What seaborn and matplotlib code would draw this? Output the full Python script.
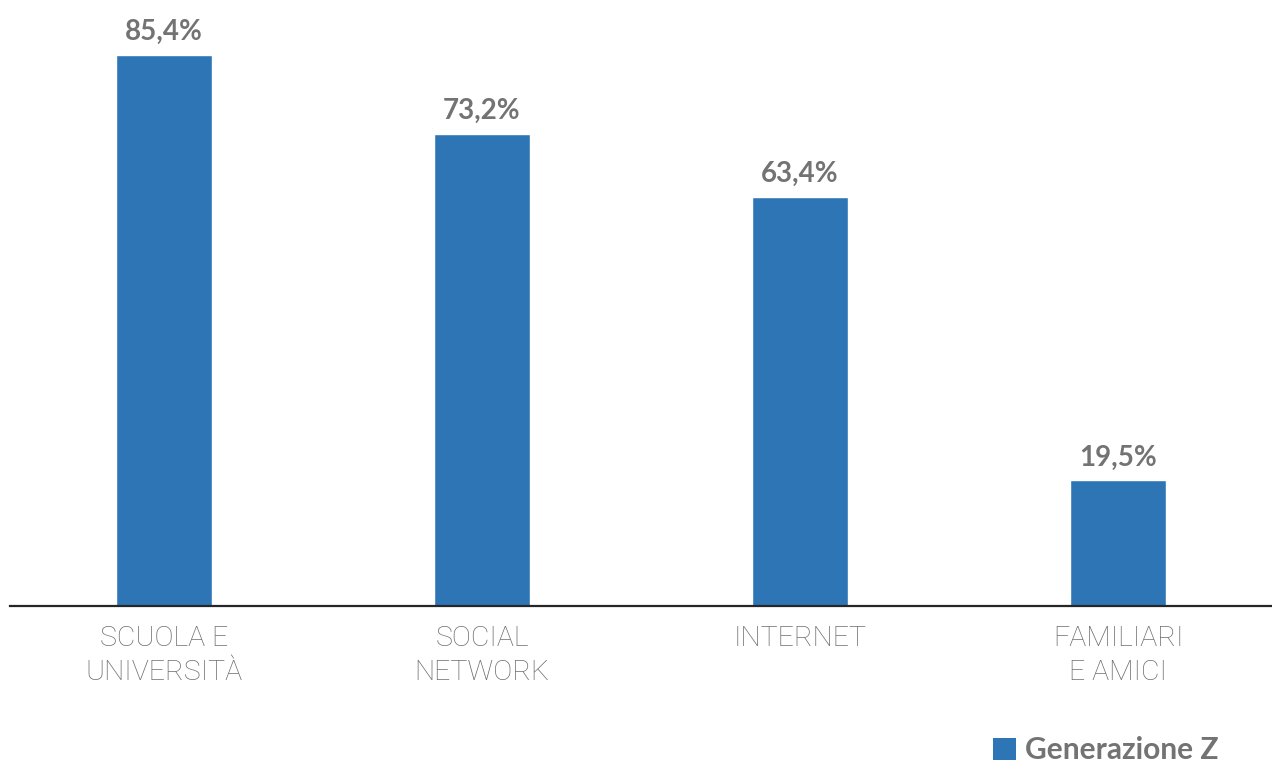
import matplotlib
matplotlib.use("Agg")
import matplotlib.pyplot as plt
import seaborn as sns
import pandas as pd
from matplotlib.patches import Patch

categories = ["SCUOLA E\nUNIVERSITÀ", "SOCIAL\nNETWORK", "INTERNET", "FAMILIARI\nE AMICI"]
values = [85.4, 73.2, 63.4, 19.5]
series_name = "Generazione Z"

BLUE = "#2E75B6"
GREY = "#737373"

sns.set_theme(style="white")
plt.rcParams["font.family"] = ["Lato", "DejaVu Sans"]

df = pd.DataFrame({"categoria": categories, "valore": values})

fig = plt.figure(figsize=(12.72, 7.67), dpi=100)
ax = fig.add_axes([10 / 1272, (767 - 606) / 767, 1 - 10 / 1272, 606 / 767])

sns.barplot(data=df, x="categoria", y="valore", color=BLUE, width=0.30,
            saturation=1, ax=ax)

ax.set_xlim(-0.484, 3.484)
ax.set_ylim(0, 93.9)

labels = [f"{v:.1f}%".replace(".", ",") for v in values]
ax.bar_label(ax.containers[0], labels=labels, padding=7, fontsize=20,
             fontweight="bold", color=GREY)

for side in ["top", "left", "right"]:
    ax.spines[side].set_visible(False)
ax.spines["bottom"].set_color("#262626")
ax.spines["bottom"].set_linewidth(1.6)

ax.set_yticks([])
ax.set_xlabel("")
ax.set_ylabel("")
ax.tick_params(axis="x", length=0, pad=14)
ax.set_xticks(range(len(categories)))
ax.set_xticklabels(categories, color="#6E6E6E", linespacing=1.3,
                   fontdict={"family": ["Roboto", "DejaVu Sans"],
                             "weight": "light", "size": 20.5})

handle = Patch(facecolor=BLUE, edgecolor="none")
fig.legend([handle], [series_name], loc="lower right",
           bbox_to_anchor=(1224 / 1272, -0.004), frameon=False,
           prop={"size": 21.5, "weight": "bold"}, labelcolor=GREY,
           handlelength=0.75, handleheight=0.75, handletextpad=0.3,
           borderaxespad=0, borderpad=0.2)

fig.savefig("out.png", dpi=100)
